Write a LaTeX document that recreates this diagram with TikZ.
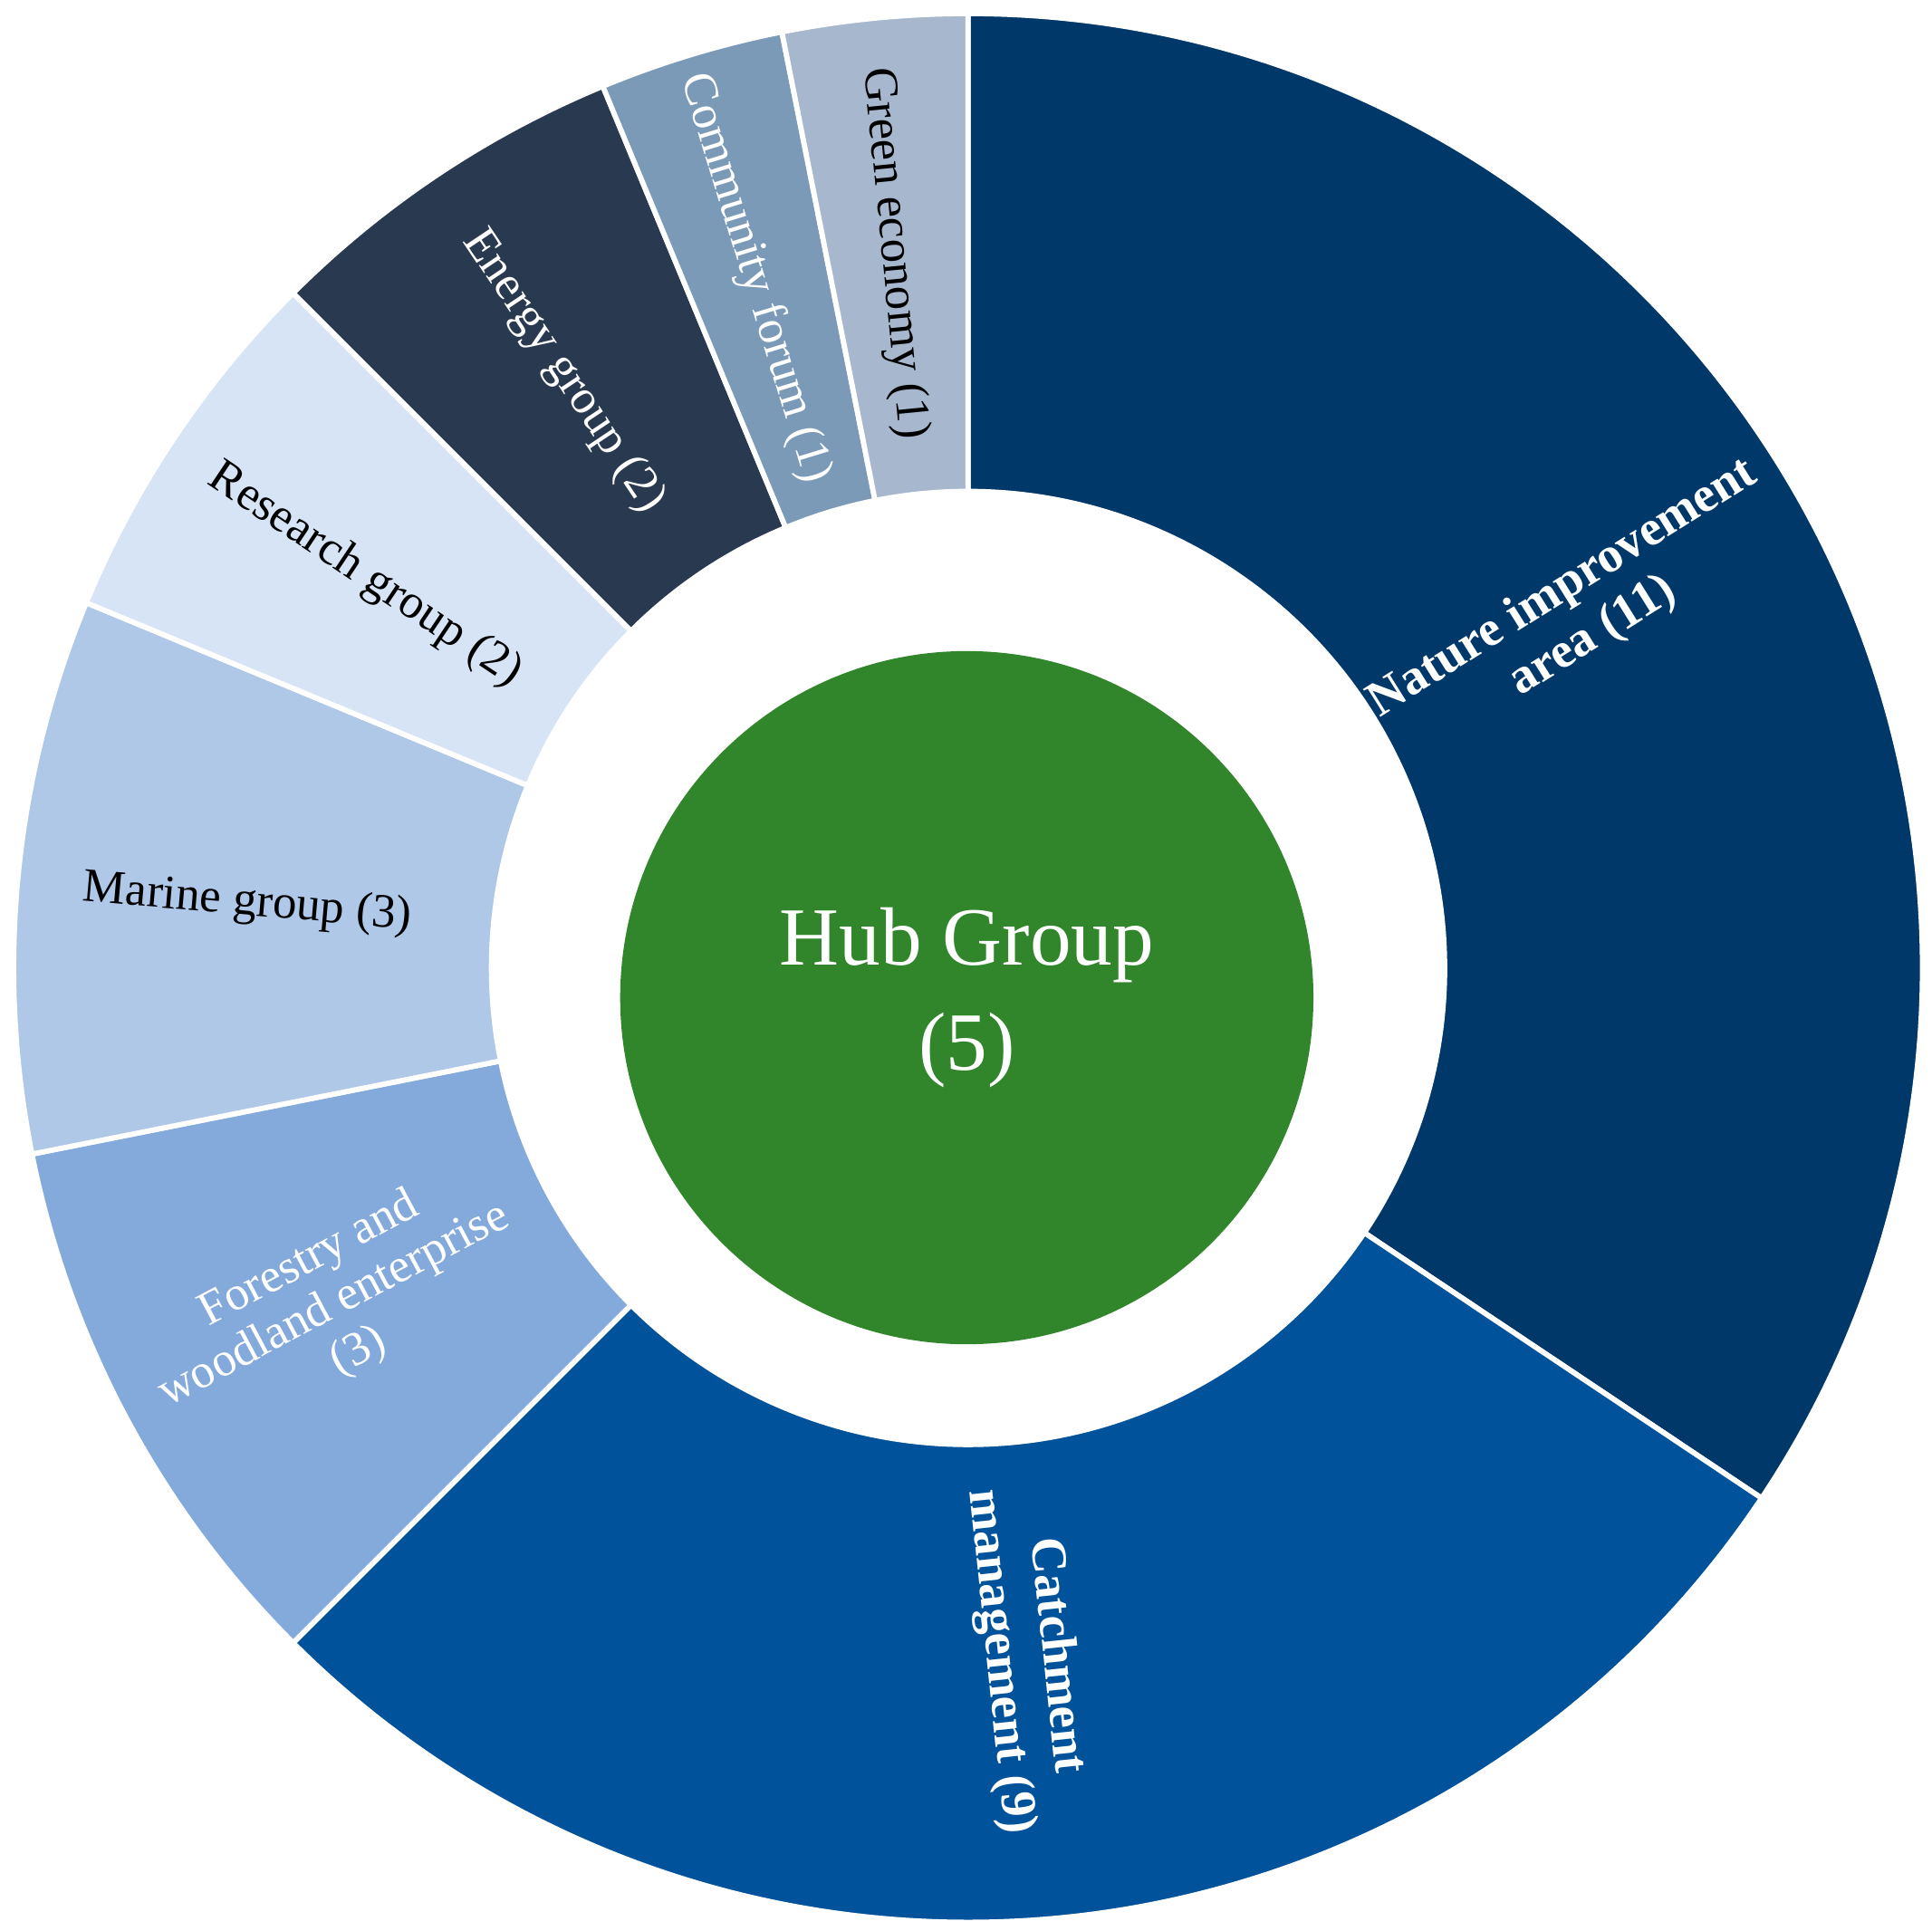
\documentclass[tikz,border=0pt]{standalone}
\usepackage{fontspec}
\setmainfont{Liberation Serif}
\definecolor{cNat}{HTML}{00386A}
\definecolor{cCat}{HTML}{00529B}
\definecolor{cFor}{HTML}{84AADC}
\definecolor{cMar}{HTML}{AFC8E8}
\definecolor{cRes}{HTML}{D6E4F5}
\definecolor{cEne}{HTML}{29394F}
\definecolor{cCom}{HTML}{7A9AB8}
\definecolor{cGre}{HTML}{A7B8CE}
\definecolor{cHub}{HTML}{31862C}
\tikzset{wedge/.style={draw=white,line width=1.2pt},
lab/.style={font=\fontsize{11}{12}\selectfont,align=center,inner sep=0pt},
labw/.style={lab,text=white}}
\newcommand{\wedgeseg}[3]{\path[wedge,fill=#3] ([shift={(#1:7.71)}]c) arc[start angle=#1,end angle=#2,radius=7.71] -- ([shift={(#2:3.85)}]c) arc[start angle=#2,end angle=#1,radius=3.85] -- cycle;}
\begin{document}
\begin{tikzpicture}
\useasboundingbox (0,0) rectangle (15.6,15.6);
\coordinate (c) at (7.82,7.78);
\wedgeseg{90}{-33.75}{cNat}
\wedgeseg{-33.75}{-135}{cCat}
\wedgeseg{-135}{-168.75}{cFor}
\wedgeseg{-168.75}{-202.5}{cMar}
\wedgeseg{157.5}{135}{cRes}
\wedgeseg{135}{112.5}{cEne}
\wedgeseg{112.5}{101.25}{cCom}
\wedgeseg{101.25}{90}{cGre}
\node[circle,fill=cHub,minimum size=5.6cm,inner sep=0pt,text=white,align=center,font=\fontsize{19}{24}\selectfont] (hub) at (7.81,7.54) {Hub Group\\(5)};
\node[labw,font=\bfseries\fontsize{11.5}{13}\selectfont,rotate=32] (nat) at (12.75,10.65) {Nature improvement\\area (11)};
\node[labw,font=\bfseries\fontsize{11.5}{13}\selectfont,rotate=-84] (cat) at (8.3,2.2) {Catchment\\management (9)};
\node[labw,rotate=28] (for) at (2.7,5.05) {Forestry and\\woodland enterprise\\(3)};
\node[lab,rotate=-5] (mar) at (2.0,8.3) {Marine group (3)};
\node[lab,rotate=-33.75] (res) at (2.95,10.95) {Research group (2)};
\node[labw,rotate=-56.25] (ene) at (4.55,12.6) {Energy group (2)};
\node[labw,rotate=-73] (com) at (6.1,13.35) {Community forum (1)};
\node[lab,rotate=-84.4] (gre) at (7.22,13.55) {Green economy (1)};
\end{tikzpicture}
\end{document}
